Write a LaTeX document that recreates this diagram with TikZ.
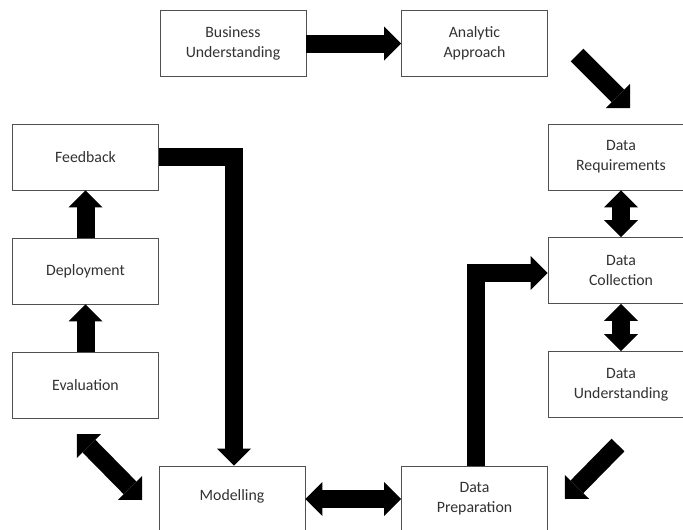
\documentclass[tikz,border=0pt]{standalone}
\usepackage{fontspec}
\setmainfont{Carlito}
\usetikzlibrary{arrows.meta}
\definecolor{boxline}{RGB}{80,80,80}
\definecolor{txt}{RGB}{50,50,50}
\begin{document}
\begin{tikzpicture}[x=1pt,y=-1pt,
  box/.style={draw=boxline,line width=0.9pt,fill=white,minimum width=146pt,minimum height=66pt,inner sep=0pt,align=center,text=txt,font=\fontsize{15.8}{20}\selectfont},
  tipA/.tip={Triangle[length=17pt,width=34pt,line width=0pt]},
  blk/.style={line width=18pt,draw=black,line join=miter}]
\useasboundingbox[fill=white] (0,0) rectangle (683,530);
\node[box] (BU) at (233,43.5) {Business\\Understanding};
\node[box] (AA) at (474.5,43.5) {Analytic\\Approach};
\node[box] (FB) at (85.5,157) {Feedback};
\node[box] (DEP) at (85.5,271) {Deployment};
\node[box] (EV) at (85.5,385) {Evaluation};
\node[box] (DR) at (621,157) {Data\\Requirements};
\node[box] (DC) at (621,270.5) {Data\\Collection};
\node[box] (DU) at (621,384.5) {Data\\Understanding};
\node[box] (MOD) at (232,499) {\raisebox{7pt}{Modelling}};
\node[box] (DP) at (474.5,499) {Data\\Preparation};
\coordinate (a1) at (577,55);
\coordinate (a1t) at (630,108);
\coordinate (e1) at (77,434);
\coordinate (e2) at (142,500);
\coordinate (u1) at (618,445);
\coordinate (u2) at (565,499);
\draw[blk,-tipA] (BU.east) -- (AA.west);
\draw[blk,-tipA] (a1) -- (a1t);
\draw[blk,-tipA] (FB.east) -| ([xshift=2pt]MOD.north);
\draw[blk,-tipA] ([xshift=1.5pt]DP.north) |- ([yshift=-2.5pt]DC.west);
\draw[blk,-tipA] (DEP.north) -- (FB.south);
\draw[blk,-tipA] (EV.north) -- (DEP.south);
\draw[blk,tipA-tipA] (DR.south) -- (DC.north);
\draw[blk,tipA-tipA] (DC.south) -- (DU.north);
\draw[blk,tipA-tipA] (MOD.east) -- (DP.west);
\draw[blk,tipA-tipA] (e1) -- (e2);
\draw[blk,-tipA] (u1) -- (u2);
\end{tikzpicture}
\end{document}
